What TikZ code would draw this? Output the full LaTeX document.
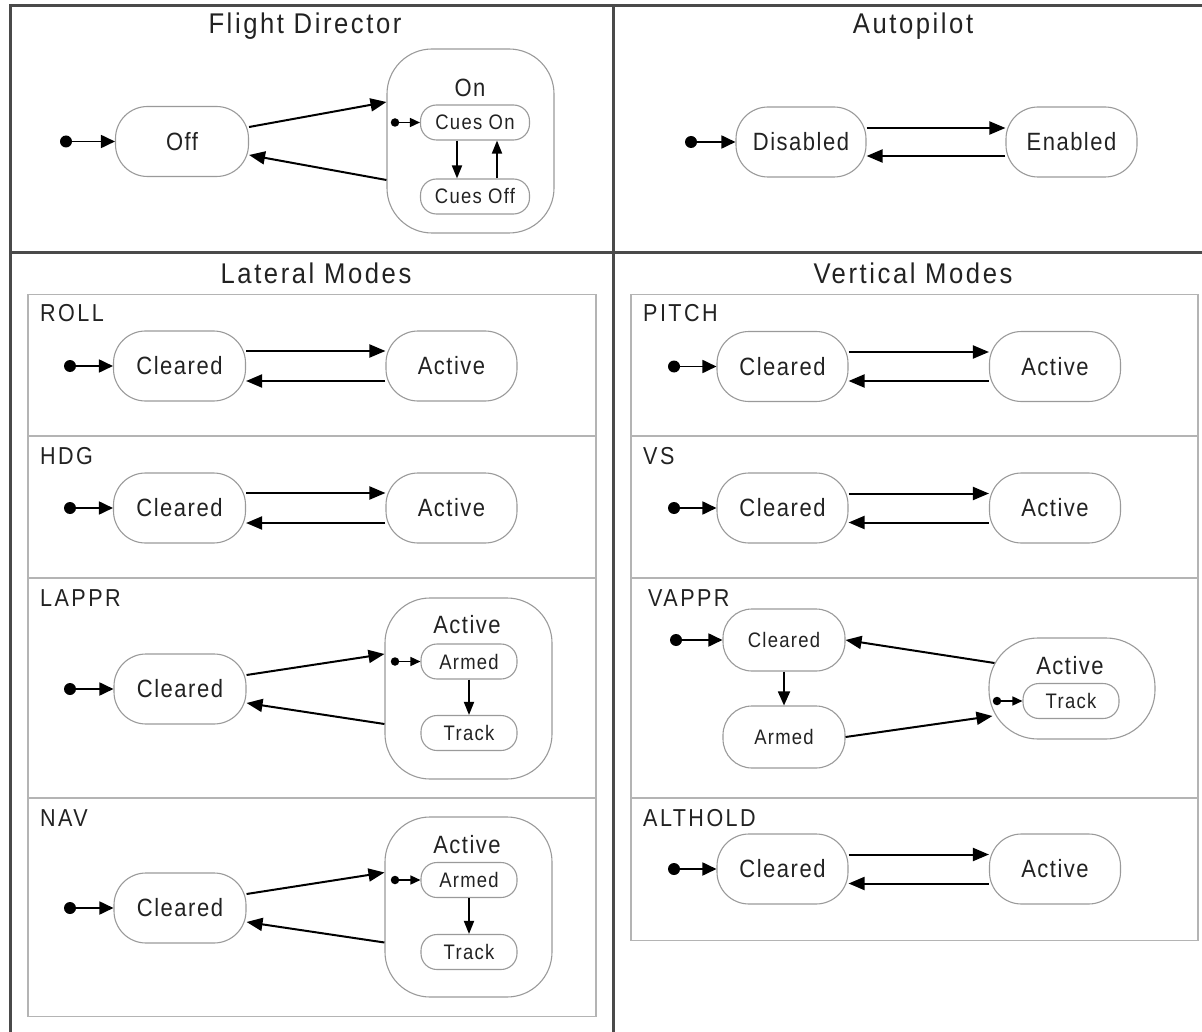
\documentclass[tikz,border=0pt]{standalone}
\usepackage{fontspec}
\setmainfont{Liberation Sans}[FakeStretch=0.88,LetterSpace=6]
\newfontfamily\titlefont{Liberation Sans}[FakeStretch=0.9,LetterSpace=9]
\newfontfamily\sectfont{Liberation Sans}[FakeStretch=0.88,LetterSpace=10]
\usetikzlibrary{arrows.meta,calc}
\newcommand\fsz[1]{\fontsize{#1pt}{#1pt}\selectfont}
\definecolor{framegray}{HTML}{4A4A4A}
\definecolor{boxgray}{HTML}{B4B4B4}
\definecolor{stategray}{HTML}{9A9A9A}
\definecolor{ink}{HTML}{222222}

\begin{document}
\begin{tikzpicture}[x=1pt,y=-1pt,
  frame/.style={draw=framegray,line width=3pt},
  panel/.style={draw=boxgray,line width=1.6pt},
  title/.style={font=\titlefont\fsz{28.5},text=ink,anchor=base,inner sep=0pt},
  sect/.style={font=\sectfont\fsz{24.5},text=ink,anchor=base west,inner sep=0pt},
  st/.style={draw=stategray,line width=1.1pt,rounded corners=32pt,
             minimum width=132pt,minimum height=70pt,inner sep=0pt,
             font=\fsz{25},text=ink},
  stsm/.style={st,minimum width=122pt,minimum height=62pt,rounded corners=29pt,font=\fsz{21}},
  sub/.style={draw=stategray,line width=1.1pt,rounded corners=16pt,
              minimum width=96pt,minimum height=35pt,inner sep=0pt,
              font=\fsz{21},text=ink},
  comp/.style={draw=stategray,line width=1.1pt,rounded corners=45pt,inner sep=0pt},
  clabel/.style={font=\fsz{25},text=ink,inner sep=0pt},
  tr/.style={draw=black,line width=2pt,-{Triangle[length=16pt,width=13pt]}},
  trs/.style={draw=black,line width=1.8pt,-{Triangle[length=13pt,width=10pt]}},
  ini/.style={draw=black,line width=1.8pt,-{Triangle[length=14pt,width=13pt]}},
  inis/.style={draw=black,line width=1.5pt,-{Triangle[length=10pt,width=9pt]}},
  idot/.style={circle,fill=black,inner sep=0pt,minimum size=12pt},
  idots/.style={circle,fill=black,inner sep=0pt,minimum size=8.5pt}
]
\useasboundingbox (0,0) rectangle (1202,1032);

% outer frame and quadrant dividers
\draw[frame] (10.5,1032) -- (10.5,6) -- (1202,6);
\draw[frame] (613,6) -- (613,1032);
\draw[frame] (10.5,253) -- (1202,253);

% ---------- Flight Director ----------
\node[title] (fdT) at (305,34) {Flight Director};
\node[st,minimum width=133pt] (fdOff) at (182,141.5) {Off};
\node[idot] (fdD) at (66,141.5) {};
\draw[ini] (fdD) -- (fdOff);
\node[comp,minimum width=167pt,minimum height=184pt] (fdOn) at (470.5,141) {};
\node[clabel] (fdOnL) at (470,88) {On};
\node[sub,minimum width=109pt] (fdCOn) at (475,122.5) {Cues On};
\node[sub,minimum width=109pt] (fdCOff) at (475,196.5) {Cues Off};
\node[idots] (fdD2) at (395,122.5) {};
\draw[inis] (fdD2) -- (fdCOn);
\draw[trs] ([xshift=-18pt]fdCOn.south) -- ([xshift=-18pt]fdCOff.north);
\draw[trs] ([xshift=22pt]fdCOff.north) -- ([xshift=22pt]fdCOn.south);
\draw[tr] ([yshift=14.5pt]fdOff.east) -- ([yshift=39pt]fdOn.west);
\draw[tr] ([yshift=-39pt]fdOn.west) -- ([yshift=-13.5pt]fdOff.east);

% ---------- Autopilot ----------
\node[title] (apT) at (913,34) {Autopilot};
\node[st,minimum width=130pt] (apDis) at (801,142) {Disabled};
\node[st,minimum width=131pt] (apEn) at (1071.5,142) {Enabled};
\node[idot] (apD) at (691,142) {};
\draw[ini] (apD) -- (apDis);
\draw[tr] ([yshift=14pt]apDis.east) -- ([yshift=14pt]apEn.west);
\draw[tr] ([yshift=-14pt]apEn.west) -- ([yshift=-14pt]apDis.east);

% ---------- Lateral Modes ----------
\node[title] (latT) at (316,284) {Lateral Modes};
\draw[panel] (28,294.5) rectangle (596,1016.5);
\draw[panel] (28,436) -- (596,436);
\draw[panel] (28,578) -- (596,578);
\draw[panel] (28,798) -- (596,798);

% ROLL
\node[sect] (rollL) at (40,322) {ROLL};
\node[st] (rollC) at (179.5,366) {Cleared};
\node[st,minimum width=131pt] (rollA) at (451.5,366) {Active};
\node[idot] (rollD) at (70,366) {};
\draw[ini] (rollD) -- (rollC);
\draw[tr] ([yshift=15pt]rollC.east) -- ([yshift=15pt]rollA.west);
\draw[tr] ([yshift=-15pt]rollA.west) -- ([yshift=-15pt]rollC.east);

% HDG
\node[sect] (hdgL) at (40,464) {HDG};
\node[st] (hdgC) at (179.5,508) {Cleared};
\node[st,minimum width=131pt] (hdgA) at (451.5,508) {Active};
\node[idot] (hdgD) at (70,508) {};
\draw[ini] (hdgD) -- (hdgC);
\draw[tr] ([yshift=15pt]hdgC.east) -- ([yshift=15pt]hdgA.west);
\draw[tr] ([yshift=-15pt]hdgA.west) -- ([yshift=-15pt]hdgC.east);

% LAPPR
\node[sect] (lapL) at (40,606) {LAPPR};
\node[st] (lapC) at (180,689) {Cleared};
\node[idot] (lapD) at (70,689) {};
\draw[ini] (lapD) -- (lapC);
\node[comp,minimum width=167pt,minimum height=181pt] (lapA) at (468.5,688.5) {};
\node[clabel] (lapAL) at (467,625) {Active};
\node[sub] (lapArm) at (469,661.5) {Armed};
\node[sub] (lapTrk) at (469,733) {Track};
\node[idots] (lapD2) at (395,661.5) {};
\draw[inis] (lapD2) -- (lapArm);
\draw[trs] (lapArm) -- (lapTrk);
\draw[tr] ([yshift=14pt]lapC.east) -- ([yshift=34.5pt]lapA.west);
\draw[tr] ([yshift=-35.5pt]lapA.west) -- ([yshift=-14pt]lapC.east);

% NAV
\node[sect] (navL) at (40,826) {NAV};
\node[st] (navC) at (180,908) {Cleared};
\node[idot] (navD) at (70,908) {};
\draw[ini] (navD) -- (navC);
\node[comp,minimum width=167pt,minimum height=180pt] (navA) at (468.5,907) {};
\node[clabel] (navAL) at (467,845) {Active};
\node[sub] (navArm) at (469,880) {Armed};
\node[sub] (navTrk) at (469,952) {Track};
\node[idots] (navD2) at (395,880) {};
\draw[inis] (navD2) -- (navArm);
\draw[trs] (navArm) -- (navTrk);
\draw[tr] ([yshift=14pt]navC.east) -- ([yshift=34.5pt]navA.west);
\draw[tr] ([yshift=-35.5pt]navA.west) -- ([yshift=-14pt]navC.east);

% ---------- Vertical Modes ----------
\node[title] (verT) at (913,284) {Vertical Modes};
\draw[panel] (631,294.5) rectangle (1198,940.5);
\draw[panel] (631,436) -- (1198,436);
\draw[panel] (631,578) -- (1198,578);
\draw[panel] (631,798) -- (1198,798);

% PITCH
\node[sect] (pitL) at (643,322) {PITCH};
\node[st,minimum width=131pt] (pitC) at (782.5,366.5) {Cleared};
\node[st,minimum width=131pt] (pitA) at (1055,366.5) {Active};
\node[idot] (pitD) at (674,366.5) {};
\draw[ini] (pitD) -- (pitC);
\draw[tr] ([yshift=14.5pt]pitC.east) -- ([yshift=14.5pt]pitA.west);
\draw[tr] ([yshift=-14.5pt]pitA.west) -- ([yshift=-14.5pt]pitC.east);

% VS
\node[sect] (vsL) at (643,464) {VS};
\node[st,minimum width=131pt] (vsC) at (782.5,508) {Cleared};
\node[st,minimum width=131pt] (vsA) at (1055,508) {Active};
\node[idot] (vsD) at (674,508) {};
\draw[ini] (vsD) -- (vsC);
\draw[tr] ([yshift=14.5pt]vsC.east) -- ([yshift=14.5pt]vsA.west);
\draw[tr] ([yshift=-14.5pt]vsA.west) -- ([yshift=-14.5pt]vsC.east);

% VAPPR
\node[sect] (vapL) at (648,606) {VAPPR};
\node[stsm] (vapC) at (784,640) {Cleared};
\node[stsm] (vapArm) at (784,737) {Armed};
\node[idot] (vapD) at (676,640) {};
\draw[ini] (vapD) -- (vapC);
\draw[trs,-{Triangle[length=14pt,width=12pt]}] (vapC) -- (vapArm);
\node[comp,minimum width=166pt,minimum height=101pt,rounded corners=49pt] (vapA) at (1072,688.5) {};
\node[clabel] (vapAL) at (1070,666) {Active};
\node[sub] (vapTrk) at (1071,701) {Track};
\node[idots] (vapD2) at (997,701) {};
\draw[inis] (vapD2) -- (vapTrk);
\draw[tr] (vapArm.east) -- ([xshift=4pt,yshift=-27.5pt]vapA.west);
\draw[tr] ([xshift=6pt,yshift=25.5pt]vapA.west) -- (vapC.east);

% ALTHOLD
\node[sect] (altL) at (643,826) {ALTHOLD};
\node[st,minimum width=131pt] (altC) at (782.5,869) {Cleared};
\node[st,minimum width=131pt] (altA) at (1055,869) {Active};
\node[idot] (altD) at (674,869) {};
\draw[ini] (altD) -- (altC);
\draw[tr] ([yshift=14.5pt]altC.east) -- ([yshift=14.5pt]altA.west);
\draw[tr] ([yshift=-14.5pt]altA.west) -- ([yshift=-14.5pt]altC.east);
\end{tikzpicture}
\end{document}
